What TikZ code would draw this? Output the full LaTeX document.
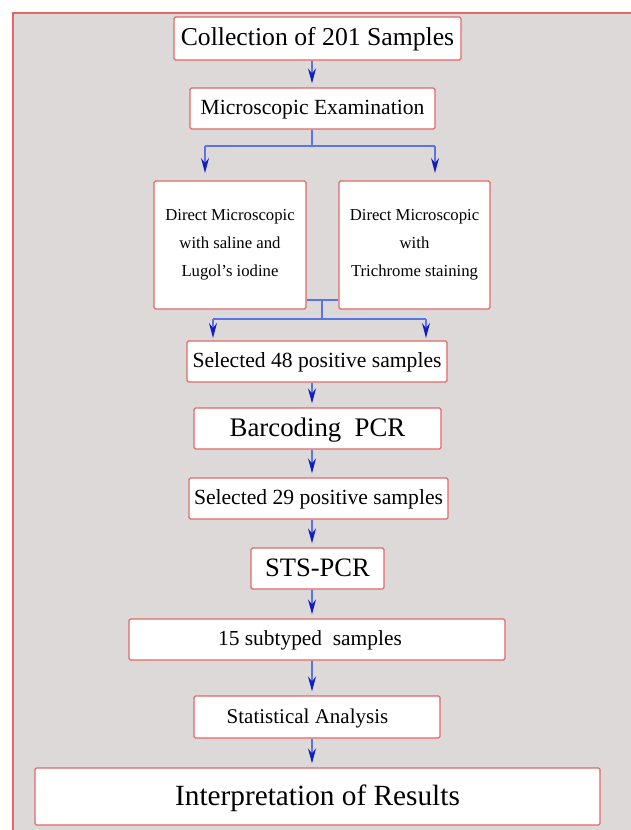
\documentclass[tikz,border=0pt]{standalone}
\usepackage{fontspec}
\setmainfont{Liberation Serif}
\usetikzlibrary{arrows.meta}
\definecolor{bgray}{RGB}{221,217,217}
\definecolor{bred}{RGB}{226,104,104}
\definecolor{lblue}{RGB}{90,115,230}
\definecolor{dblue}{RGB}{20,30,190}
\newcommand{\fs}[2]{\fontsize{#1}{#2}\selectfont}
\tikzset{
  box/.style={draw=bred, line width=1.3pt, fill=white, rounded corners=1.5pt,
    inner sep=0pt, text=black},
  fz/.style={font=\fs{#1}{30}, text height={0.72*#1pt}, text depth={0.14*#1pt}},
  mbox/.style={draw=bred, line width=1.3pt, fill=white, rounded corners=1.5pt,
    inner sep=0pt, align=center, text=black},
  flow/.style={draw=lblue, line width=1.3pt,
    -{Stealth[length=15pt,width=8pt,inset=5pt,fill=dblue,color=dblue]}},
  link/.style={draw=lblue, line width=1.3pt},
}
\begin{document}
\begin{tikzpicture}[x=1pt,y=-1pt]
\useasboundingbox (0,0) rectangle (630,830);
\fill[white] (0,0) rectangle (630,830);
\fill[bgray] (13,13) rectangle (640,840);
\draw[bred, line width=1.5pt] (13,840) -- (13,13) -- (640,13);

\node[box, minimum width=287, minimum height=43, fz=25.7] (c1) at (317.5,38.5) {Collection of 201 Samples};
\node[box, minimum width=245, minimum height=41, fz=21.6] (c2) at (312.5,108.5) {Microscopic Examination};
\node[mbox, minimum width=152, minimum height=128, font=\fs{16.7}{28}] (c3) at (230,245) {Direct Microscopic\\with saline and\\Lugol’s iodine};
\node[mbox, minimum width=151, minimum height=128, font=\fs{16.7}{28}] (c4) at (414.5,245) {Direct Microscopic\\with\\Trichrome staining};
\node[box, minimum width=260, minimum height=41, fz=21.6] (c5) at (317,361.5) {Selected 48 positive samples};
\node[box, minimum width=247, minimum height=41, fz=26.8] (c6) at (317.5,428.5) {Barcoding\ \ PCR};
\node[box, minimum width=259, minimum height=41, fz=21.6] (c7) at (318.5,498.5) {Selected 29 positive samples};
\node[box, minimum width=133, minimum height=41, fz=26.6] (c8) at (317.5,568.5) {STS-PCR};
\node[box, minimum width=376, minimum height=41, fz=21.4] (c9) at (317,639.5) {15 subtyped\ \ samples\hspace*{14pt}};
\node[box, minimum width=246, minimum height=42, fz=21] (c10) at (317,717) {Statistical Analysis\hspace*{19pt}};
\node[box, minimum width=565, minimum height=57, fz=29.3] (c11) at (317.5,796.5) {Interpretation of Results};

% spine and free ends
\coordinate (sp) at (312,0);
\coordinate (t1) at (312,146);
\coordinate (l1) at (205,146);
\coordinate (r1) at (435,146);
\coordinate (la) at (205,173);
\coordinate (ra) at (435,173);
\coordinate (j1) at (322,300);
\coordinate (j2) at (322,319);
\coordinate (l2) at (213,319);
\coordinate (r2) at (426,319);
\coordinate (lb) at (213,338);
\coordinate (rb) at (426,338);

\draw[flow, shorten >=4pt] (c1.south -| sp) -- (c2.north -| sp);
\draw[link] (c2.south -| sp) -- (t1);
\draw[link] (l1) -- (r1);
\draw[flow] (l1) -- (la);
\draw[flow] (r1) -- (ra);
\draw[link] (c3.east |- j1) -- (c4.west |- j1);
\draw[link] (j1) -- (j2);
\draw[link] (l2) -- (r2);
\draw[flow] (l2) -- (lb);
\draw[flow] (r2) -- (rb);
\draw[flow, shorten >=4pt] (c5.south -| sp) -- (c6.north -| sp);
\draw[flow, shorten >=4pt] (c6.south -| sp) -- (c7.north -| sp);
\draw[flow, shorten >=4pt] (c7.south -| sp) -- (c8.north -| sp);
\draw[flow, shorten >=4pt] (c8.south -| sp) -- (c9.north -| sp);
\draw[flow, shorten >=4pt] (c9.south -| sp) -- (c10.north -| sp);
\draw[flow, shorten >=4pt] (c10.south -| sp) -- (c11.north -| sp);
\end{tikzpicture}
\end{document}
